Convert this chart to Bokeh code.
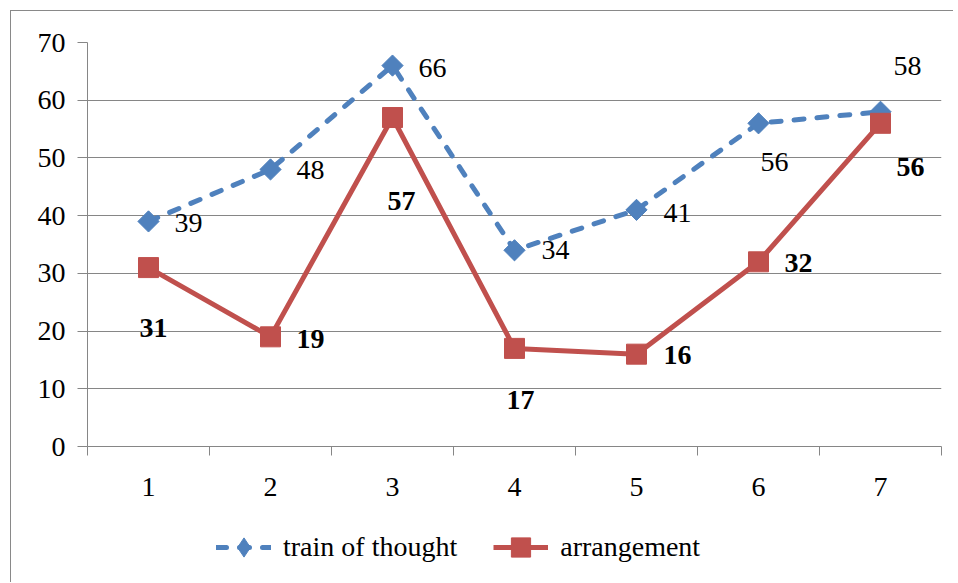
import math
from bokeh.plotting import figure
from bokeh.layouts import column
from bokeh.models import FixedTicker, Legend, LegendItem, Range1d, ColumnDataSource
from bokeh.core.properties import value
from bokeh.embed import file_html
from bokeh.resources import INLINE

categories = [1, 2, 3, 4, 5, 6, 7]
train_of_thought = [39, 48, 66, 34, 41, 56, 58]
arrangement = [31, 19, 57, 17, 16, 32, 56]
y_ticks = [0, 10, 20, 30, 40, 50, 60, 70]
series_names = ["train of thought", "arrangement"]

# label placement offsets (screen px)
blue_dx = [40, 40, 40, 41, 41, 16, 27]
blue_dy = [2, 1, 2, 0, 3, 39, -46]
red_dx = [5, 40, 9, 6, 41, 40, 30]
red_dy = [60, 2, 83, 52, 1, 1, 44]

FONT = "Liberation Serif"
BLUE = "#4F81BD"
RED = "#C0504D"
GRID = "#868686"
BORDER = "#898989"

src_b = ColumnDataSource(dict(x=categories, y=train_of_thought,
                              t=[str(v) for v in train_of_thought], dx=blue_dx, dy=blue_dy))
src_r = ColumnDataSource(dict(x=categories, y=arrangement,
                              t=[str(v) for v in arrangement], dx=red_dx, dy=red_dy))

p = figure(width=942, height=495, output_backend="svg", toolbar_location=None,
           x_range=Range1d(0.5, 7.5), y_range=Range1d(0, 70),
           min_border_left=76, min_border_right=12, min_border_top=31, min_border_bottom=60)
p.outline_line_color = None
p.background_fill_color = "white"
p.border_fill_color = "white"

# grid
p.xgrid.grid_line_color = None
p.ygrid.grid_line_color = GRID
p.ygrid.grid_line_width = 1
p.ygrid.ticker = FixedTicker(ticks=y_ticks)

# y axis
p.yaxis.ticker = FixedTicker(ticks=y_ticks)
p.yaxis.axis_line_color = GRID
p.yaxis.major_tick_line_color = GRID
p.yaxis.major_tick_out = 10
p.yaxis.major_tick_in = 0
p.yaxis.minor_tick_line_color = None
p.yaxis.major_label_text_font = FONT
p.yaxis.major_label_text_font_size = "28px"
p.yaxis.major_label_text_color = "black"
p.yaxis.major_label_standoff = 12

# x axis
p.xaxis.ticker = FixedTicker(ticks=categories, minor_ticks=[c - 0.5 for c in categories] + [7.5])
p.xaxis.axis_line_color = GRID
p.xaxis.major_tick_line_color = None
p.xaxis.major_tick_out = 0
p.xaxis.major_tick_in = 0
p.xaxis.minor_tick_line_color = GRID
p.xaxis.minor_tick_out = 9
p.xaxis.minor_tick_in = 0
p.xaxis.major_label_text_font = FONT
p.xaxis.major_label_text_font_size = "28px"
p.xaxis.major_label_text_color = "black"
p.xaxis.major_label_standoff = 22

BLUE_LINE = dict(line_color=BLUE, line_width=5, line_dash="10 13", line_cap="round")
RED_LINE = dict(line_color=RED, line_width=5)
BLUE_MARK = dict(marker="square", size=15, angle=math.pi / 4, color=BLUE)
RED_MARK = dict(marker="square", size=20, color=RED)

# series
p.line("x", "y", source=src_b, **BLUE_LINE)
p.scatter("x", "y", source=src_b, **BLUE_MARK)
p.line("x", "y", source=src_r, **RED_LINE)
p.scatter("x", "y", source=src_r, **RED_MARK)

p.text("x", "y", text="t", source=src_b, x_offset="dx", y_offset="dy",
       text_font=value(FONT), text_font_size="28px", text_color="black",
       text_align="center", text_baseline="middle")
p.text("x", "y", text="t", source=src_r, x_offset="dx", y_offset="dy",
       text_font=value(FONT), text_font_size="28px", text_font_style="bold",
       text_color="black", text_align="center", text_baseline="middle")

# legend strip (its own small figure below the chart)
leg = figure(width=942, height=76, output_backend="svg", toolbar_location=None,
             x_range=Range1d(0, 1), y_range=Range1d(0, 1),
             x_axis_location=None, y_axis_location=None,
             min_border_left=0, min_border_right=0, min_border_top=0, min_border_bottom=0)
leg.outline_line_color = None
leg.xgrid.grid_line_color = None
leg.ygrid.grid_line_color = None
offscreen = ColumnDataSource(dict(x=[-5, -4], y=[-5, -4]))
lb = leg.line("x", "y", source=offscreen, **BLUE_LINE)
mb = leg.scatter("x", "y", source=offscreen, marker="diamond", color=BLUE)
lr = leg.line("x", "y", source=offscreen, **RED_LINE)
mr = leg.scatter("x", "y", source=offscreen, **RED_MARK)

legend = Legend(items=[LegendItem(label=series_names[0], renderers=[lb, mb]),
                       LegendItem(label=series_names[1], renderers=[lr, mr])],
                orientation="horizontal", location=(129, 11),
                glyph_width=55, glyph_height=48, label_standoff=12, spacing=36,
                padding=0, margin=0, border_line_color=None, background_fill_alpha=0,
                label_text_font=FONT, label_text_font_size="28px", label_text_color="black")
leg.add_layout(legend, "center")

page = column(p, leg, spacing=0)
page.styles = {"border-top": "1px solid " + BORDER, "border-left": "1px solid " + BORDER,
               "margin-left": "10px", "margin-top": "10px"}

open("out.html", "w").write(file_html(page, INLINE))
